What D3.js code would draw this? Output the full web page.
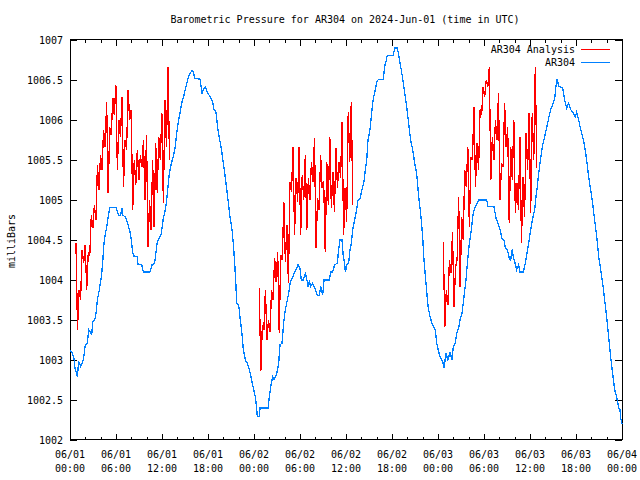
<!DOCTYPE html>
<html>
<head>
<meta charset="utf-8">
<script src="https://cdn.jsdelivr.net/npm/d3@7"></script>
<style>
  html, body { margin: 0; padding: 0; background: #fff; }
  svg { display: block; }
  text { font-family: "DejaVu Sans Mono", "Liberation Mono", monospace; font-size: 10px; fill: #000; }
</style>
</head>
<body>
<svg id="chart" width="640" height="480"></svg>
<script>
// ---------------- DATA ----------------
const chartTitle = "Barometric Pressure for AR304 on 2024-Jun-01 (time in UTC)";
const yAxisTitle = "milliBars";
const seriesNames = ["AR304 Analysis", "AR304"];

// x axis: hours since 06/01 00:00 UTC
const xMajorTicks = [0, 6, 12, 18, 24, 30, 36, 42, 48, 54, 60, 66, 72];
const xTickDates = ["06/01","06/01","06/01","06/01","06/02","06/02","06/02","06/02","06/03","06/03","06/03","06/03","06/04"];
const xTickTimes = ["00:00","06:00","12:00","18:00","00:00","06:00","12:00","18:00","00:00","06:00","12:00","18:00","00:00"];
const yTicks = [1002, 1002.5, 1003, 1003.5, 1004, 1004.5, 1005, 1005.5, 1006, 1006.5, 1007];
const yTickLabels = ["1002","1002.5","1003","1003.5","1004","1004.5","1005","1005.5","1006","1006.5","1007"];

// AR304 Analysis: three runs, samples every 0.2 h starting at these hours
const analysisStarts = [0.78, 24.69, 48.69];
const analysisStep = 0.2;
const analysisRun1 = [1004.46,1003.38,1003.88,1003.75,1004.38,1004.21,1004.44,1003.88,1004.34,1004.31,
  1004.81,1004.65,1004.94,1004.75,1005.44,1005.13,1005.56,1005.38,1005.88,1005.66,
  1006.23,1005.09,1005.91,1005.81,1006.28,1006.06,1006.44,1005.38,1006.00,1005.79,
  1006.29,1005.16,1005.75,1005.63,1006.38,1006.00,1006.13,1004.88,1005.50,1005.19,
  1005.63,1005.25,1005.56,1005.41,1005.75,1005.00,1005.81,1004.41,1005.00,1004.63,
  1005.50,1004.66,1005.71,1005.09,1005.79,1005.50,1006.09,1004.96,1006.25,1005.66,
  1006.66,1005.50];
const analysisRun2 = [1003.90,1002.86,1003.44,1003.38,1003.88,1003.25,1003.50,1003.35,1003.88,1003.75,
  1004.28,1003.98,1004.35,1003.34,1004.31,1004.25,1004.98,1004.23,1004.69,1003.96,
  1005.23,1005.10,1005.66,1004.56,1005.28,1004.98,1005.66,1004.56,1005.31,1005.00,
  1005.56,1004.63,1005.28,1005.00,1005.48,1005.23,1005.78,1004.40,1005.03,1004.88,
  1005.56,1005.15,1005.23,1004.35,1005.48,1004.94,1005.79,1004.90,1005.35,1004.85,
  1005.65,1005.15,1005.48,1005.28,1005.98,1004.56,1005.15,1004.73,1006.10,1005.48,
  1006.23,1004.94];
const analysisRun3 = [1004.48,1003.41,1003.88,1003.69,1004.25,1004.09,1004.60,1003.66,1004.16,1004.25,
  1005.04,1003.91,1004.79,1004.50,1005.38,1005.16,1005.66,1004.66,1005.54,1005.50,
  1006.16,1005.16,1005.71,1005.38,1006.13,1006.06,1006.41,1006.29,1006.50,1006.41,
  1006.66,1005.25,1005.79,1005.50,1006.00,1005.75,1006.34,1005.00,1005.46,1005.41,
  1006.21,1005.66,1005.91,1004.71,1005.66,1005.25,1006.00,1004.84,1005.21,1004.88,
  1005.79,1004.46,1005.29,1004.79,1005.84,1005.38,1006.09,1004.84,1006.09,1005.50,
  1006.66,1005.40];

// AR304 observations
const obsHours = [0,0.26,0.52,0.65,0.96,1.13,1.39,1.57,1.74,2.00,2.26,2.43,2.70,2.83,2.96,3.22,3.39,3.57,3.83,4.09,
  4.26,4.43,4.61,4.78,5.04,5.22,6.00,6.17,6.35,6.61,6.78,6.87,7.22,7.57,7.83,8.00,8.17,8.35,8.78,8.87,
  9.35,9.57,10.43,10.70,11.04,11.22,11.39,11.65,11.91,12.17,12.43,12.61,12.78,12.96,13.22,13.48,13.74,13.91,14.17,14.43,
  14.61,14.87,15.13,15.39,15.65,15.91,16.09,16.26,16.96,17.22,17.39,17.65,17.91,18.26,18.61,18.78,19.04,19.30,19.57,19.83,
  20.09,20.35,20.61,20.87,21.13,21.30,21.48,21.65,21.74,22.00,22.17,22.43,22.61,22.87,23.13,23.39,23.65,23.91,24.17,24.35,
  24.43,24.70,24.78,25.83,26.00,26.26,26.43,26.61,26.78,26.96,27.22,27.39,27.65,27.91,28.09,28.26,28.52,28.70,28.96,29.22,
  29.48,29.74,30.00,30.17,30.43,30.70,30.87,31.04,31.22,31.39,31.65,31.83,32.00,32.26,32.52,32.70,32.96,33.13,33.83,34.00,
  34.26,34.52,34.87,35.04,35.22,35.48,35.65,35.83,35.91,36.17,36.35,36.52,36.70,36.87,37.04,37.30,37.57,37.83,38.09,38.35,
  38.52,38.70,38.87,39.13,39.39,39.57,39.83,40.00,40.26,40.87,41.04,41.22,41.39,42.17,42.35,42.70,42.87,43.13,43.39,43.65,
  43.91,44.17,44.43,44.70,44.96,45.22,45.48,45.74,46.00,46.17,46.43,46.70,46.96,47.22,47.39,47.65,47.83,48.09,48.35,48.61,
  48.78,49.04,49.30,49.57,49.83,50.00,50.26,50.43,50.70,50.87,51.13,51.39,51.65,51.83,52.09,52.35,52.52,52.78,53.04,53.30,
  54.35,54.52,55.30,55.57,55.83,56.09,56.35,56.61,56.78,57.04,57.30,57.48,57.65,57.83,58.00,58.26,58.52,58.70,59.13,59.39,
  59.57,59.83,60.09,60.35,60.61,60.78,60.96,61.13,61.39,61.65,61.91,62.17,62.43,62.70,62.96,63.22,63.48,63.57,63.74,64.26,
  64.52,64.78,65.04,65.30,65.57,65.91,66.09,66.35,66.61,66.87,67.13,67.39,67.65,67.91,68.17,68.43,68.70,68.96,69.22,69.48,
  69.74,70.00,70.26,70.52,70.78,71.04,71.30,71.57,71.74,71.83,72.00];
const obsPressure = [1003.12,1003.10,1003.02,1002.90,1002.79,1002.98,1002.92,1002.96,1003.00,1003.19,1003.21,1003.38,1003.35,1003.31,1003.48,1003.50,1003.58,1003.75,1003.88,1004.04,
  1004.21,1004.46,1004.58,1004.65,1004.83,1004.91,1004.91,1004.86,1004.81,1004.81,1004.90,1004.81,1004.79,1004.69,1004.60,1004.50,1004.35,1004.30,1004.29,1004.19,
  1004.19,1004.10,1004.10,1004.19,1004.21,1004.35,1004.48,1004.52,1004.58,1004.77,1004.88,1005.00,1005.17,1005.33,1005.46,1005.54,1005.67,1005.83,1006.00,1006.13,
  1006.23,1006.31,1006.42,1006.52,1006.58,1006.62,1006.60,1006.52,1006.51,1006.33,1006.38,1006.41,1006.35,1006.29,1006.23,1006.13,1006.10,1005.88,1005.73,1005.58,
  1005.40,1005.21,1005.00,1004.79,1004.63,1004.46,1004.21,1003.92,1003.71,1003.69,1003.54,1003.33,1003.13,1003.00,1002.96,1002.88,1002.77,1002.65,1002.54,1002.40,
  1002.29,1002.29,1002.40,1002.40,1002.54,1002.71,1002.79,1002.75,1002.79,1002.83,1002.96,1003.19,1003.21,1003.50,1003.63,1003.71,1003.83,1003.96,1004.02,1004.08,
  1004.13,1004.19,1004.15,1004.00,1004.00,1004.08,1004.02,1003.92,1003.98,1003.92,1003.96,1003.92,1003.88,1003.81,1003.81,1003.92,1003.81,1004.00,1004.00,1004.10,
  1004.10,1004.19,1004.21,1004.38,1004.50,1004.50,1004.29,1004.21,1004.10,1004.21,1004.21,1004.38,1004.46,1004.63,1004.71,1004.83,1005.00,1005.02,1005.13,1005.23,
  1005.38,1005.50,1005.75,1005.88,1006.13,1006.27,1006.38,1006.48,1006.51,1006.51,1006.67,1006.73,1006.81,1006.81,1006.90,1006.90,1006.81,1006.67,1006.52,1006.35,
  1006.17,1005.96,1005.75,1005.63,1005.46,1005.33,1005.04,1004.83,1004.54,1004.25,1003.96,1003.67,1003.54,1003.46,1003.42,1003.38,1003.21,1003.10,1003.02,1002.98,
  1002.90,1003.08,1003.00,1003.10,1003.00,1003.17,1003.21,1003.33,1003.40,1003.50,1003.58,1003.79,1004.00,1004.21,1004.46,1004.63,1004.79,1004.90,1004.94,1005.00,
  1005.00,1004.92,1004.92,1004.77,1004.71,1004.63,1004.52,1004.50,1004.40,1004.38,1004.27,1004.25,1004.38,1004.29,1004.23,1004.13,1004.19,1004.10,1004.10,1004.21,
  1004.31,1004.46,1004.63,1004.77,1004.88,1005.04,1005.17,1005.33,1005.52,1005.69,1005.79,1005.90,1006.02,1006.13,1006.19,1006.27,1006.50,1006.50,1006.42,1006.40,
  1006.25,1006.15,1006.21,1006.13,1006.10,1006.04,1006.10,1006.00,1005.88,1005.79,1005.67,1005.50,1005.29,1005.13,1004.96,1004.75,1004.54,1004.29,1004.13,1003.96,
  1003.75,1003.54,1003.29,1003.04,1002.83,1002.63,1002.54,1002.40,1002.38,1002.27,1002.20];

// ---------------- CHART ----------------
const svg = d3.select("#chart");
const M = { left: 70, right: 622, top: 40, bottom: 440 };
const x = d3.scaleLinear().domain([0, 72]).range([M.left, M.right]);
const y = d3.scaleLinear().domain([1002, 1007]).range([M.bottom, M.top]);
const FONT = '"DejaVu Sans Mono", "Liberation Mono", monospace';

const minorX = d3.range(0, 73, 2).filter(h => h % 6 !== 0);

function styleAxis(g) {
  g.select(".domain").remove();
  g.selectAll("line").attr("stroke", "#000").attr("shape-rendering", "crispEdges");
  g.selectAll("text").attr("font-family", FONT).attr("font-size", 10).attr("fill", "#000");
}

// left axis with labels
svg.append("g").attr("transform", `translate(${M.left},0)`)
  .call(d3.axisLeft(y).tickValues(yTicks).tickSize(-7).tickPadding(7)
    .tickFormat((d, i) => yTickLabels[i]))
  .call(styleAxis);
// right mirror
svg.append("g").attr("transform", `translate(${M.right},0)`)
  .call(d3.axisRight(y).tickValues(yTicks).tickSize(-7).tickFormat(""))
  .call(styleAxis);
// bottom major + minor
svg.append("g").attr("transform", `translate(0,${M.bottom})`)
  .call(d3.axisBottom(x).tickValues(xMajorTicks).tickSize(-6).tickFormat(""))
  .call(styleAxis);
svg.append("g").attr("transform", `translate(0,${M.bottom})`)
  .call(d3.axisBottom(x).tickValues(minorX).tickSize(-3).tickFormat(""))
  .call(styleAxis);
// top major + minor
svg.append("g").attr("transform", `translate(0,${M.top})`)
  .call(d3.axisTop(x).tickValues(xMajorTicks).tickSize(-6).tickFormat(""))
  .call(styleAxis);
svg.append("g").attr("transform", `translate(0,${M.top})`)
  .call(d3.axisTop(x).tickValues(minorX).tickSize(-3).tickFormat(""))
  .call(styleAxis);

// x tick labels (two lines)
const xl = svg.append("g");
xMajorTicks.forEach((h, i) => {
  const t = xl.append("text").attr("text-anchor", "middle");
  t.append("tspan").attr("x", x(h)).attr("y", 457.5).text(xTickDates[i]);
  t.append("tspan").attr("x", x(h)).attr("y", 471.5).text(xTickTimes[i]);
});

// border
svg.append("rect")
  .attr("x", M.left + 0.5).attr("y", M.top - 0.5)
  .attr("width", M.right - M.left).attr("height", M.bottom - M.top + 0.0)
  .attr("fill", "none").attr("stroke", "#000").attr("stroke-width", 1)
  .attr("shape-rendering", "crispEdges");

// clip
svg.append("clipPath").attr("id", "plotclip").append("rect")
  .attr("x", M.left).attr("y", M.top).attr("width", M.right - M.left + 1).attr("height", M.bottom - M.top + 1);

const line = d3.line().x(d => x(d[0])).y(d => y(d[1]));

// observations (blue)
const obs = obsHours.map((h, i) => [h, obsPressure[i]]);
svg.append("path").datum(obs)
  .attr("clip-path", "url(#plotclip)")
  .attr("d", line).attr("fill", "none")
  .attr("stroke", "#0080ff").attr("stroke-width", 1.3)
  .attr("shape-rendering", "crispEdges");

// analysis (red)
[analysisRun1, analysisRun2, analysisRun3].forEach((run, k) => {
  const pts = run.map((v, i) => [analysisStarts[k] + i * analysisStep, v]);
  svg.append("path").datum(pts)
    .attr("clip-path", "url(#plotclip)")
    .attr("d", line).attr("fill", "none")
    .attr("stroke", "#ff0000").attr("stroke-width", 1.3)
    .attr("shape-rendering", "crispEdges");
});

// title
svg.append("text").attr("x", 345).attr("y", 23).attr("text-anchor", "middle")
  .attr("font-family", FONT).attr("font-size", 10).text(chartTitle);

// y axis title
svg.append("text").attr("transform", "translate(15,241) rotate(-90)")
  .attr("text-anchor", "middle").attr("font-family", FONT).attr("font-size", 10).text(yAxisTitle);

// legend
const legendColors = ["#ff0000", "#0080ff"];
seriesNames.forEach((name, i) => {
  const yy = 49.5 + i * 13;
  svg.append("text").attr("x", 575).attr("y", yy + 3.5).attr("text-anchor", "end")
    .attr("font-family", FONT).attr("font-size", 10).text(name);
  svg.append("line").attr("x1", 581).attr("x2", 610).attr("y1", yy).attr("y2", yy)
    .attr("stroke", legendColors[i]).attr("stroke-width", 1);
});
</script>
</body>
</html>
